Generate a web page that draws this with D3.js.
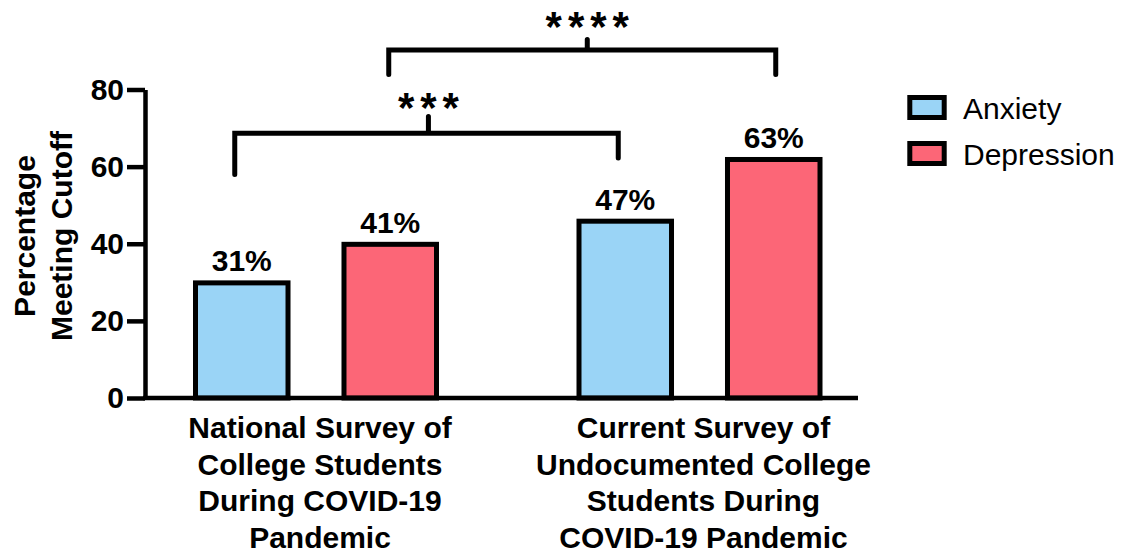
<!DOCTYPE html>
<html>
<head>
<meta charset="utf-8">
<script src="https://cdn.jsdelivr.net/npm/d3@7"></script>
<style>
  html, body { margin: 0; padding: 0; background: #fff; }
  svg { display: block; font-family: "Liberation Sans", Arial, Helvetica, sans-serif; }
</style>
</head>
<body>
<svg id="chart" width="1125" height="557"></svg>
<script>
// ---- data ----
const groups = ["National", "Current"];
const groupLabels = [
  ["National Survey of", "College Students", "During COVID-19", "Pandemic"],
  ["Current Survey of", "Undocumented College", "Students During", "COVID-19 Pandemic"]
];
const series = ["Anxiety", "Depression"];
const colors = ["#9AD4F6", "#FC6677"];
const anxiety = [30.5, 46.5];
const depression = [40.5, 62.5];
const valueLabels = [["31%", "47%"], ["41%", "63%"]]; // [series][group]
const yTicks = [0, 20, 40, 60, 80];
const yTitle = ["Percentage", "Meeting Cutoff"];
// significance brackets: [group, series] endpoints
const brackets = [
  { from: [0, 0], to: [1, 0], label: "***" },
  { from: [0, 1], to: [1, 1], label: "****" }
];

const values = [anxiety, depression]; // [series][group]

// ---- layout ----
const svg = d3.select("#chart");
const SW = 5;
const y = d3.scaleLinear().domain([0, 80]).range([398, 89.5]);
const x0 = d3.scaleBand().domain(groups).range([124.25, 891.25]).padding(0);
const x1 = d3.scaleBand().domain(series).range([-120.5, 120.5]).paddingInner(0.377).paddingOuter(0);
const gc = g => x0(g) + x0.bandwidth() / 2;
const barX = (gi, si) => gc(groups[gi]) + x1(series[si]);
const barCenter = (gi, si) => barX(gi, si) + x1.bandwidth() / 2;

// bars
const barData = [];
series.forEach((s, si) => groups.forEach((g, gi) => barData.push({ gi, si, v: values[si][gi] })));

svg.append("g").selectAll("rect").data(barData).join("rect")
  .attr("x", d => barX(d.gi, d.si))
  .attr("width", x1.bandwidth())
  .attr("y", d => y(d.v) + SW / 2)
  .attr("height", d => y(0) - y(d.v) - SW / 2)
  .attr("fill", d => colors[d.si])
  .attr("stroke", "#000")
  .attr("stroke-width", SW);

// value labels
svg.append("g").selectAll("text").data(barData).join("text")
  .attr("x", d => barCenter(d.gi, d.si))
  .attr("y", d => y(d.v) - 9)
  .attr("text-anchor", "middle")
  .attr("font-size", 30)
  .attr("font-weight", "bold")
  .text(d => valueLabels[d.si][d.gi]);

// y axis
const yAxis = d3.axisLeft(y).tickValues(yTicks).tickSize(18).tickSizeOuter(0).tickPadding(3);
const yg = svg.append("g").attr("transform", "translate(145,0)").call(yAxis);
yg.select(".domain").attr("stroke", "#000").attr("stroke-width", 4.5);
yg.selectAll(".tick line").attr("stroke", "#000").attr("stroke-width", 4.5);
yg.selectAll(".tick text").attr("fill", "#000").attr("font-size", 30).attr("font-weight", "bold")
  .attr("font-family", "'Liberation Sans', Arial, sans-serif");

// x axis line
svg.append("line")
  .attr("x1", 143).attr("x2", 858)
  .attr("y1", y(0)).attr("y2", y(0))
  .attr("stroke", "#000").attr("stroke-width", 4.5);

// x group labels
const xl = svg.append("g");
groups.forEach((g, gi) => {
  const t = xl.append("text")
    .attr("text-anchor", "middle")
    .attr("font-size", 30)
    .attr("font-weight", "bold");
  groupLabels[gi].forEach((line, li) => {
    t.append("tspan").attr("x", gc(g) + 4).attr("y", 438 + li * 36.7).text(line);
  });
});

// y title
const yt = svg.append("text")
  .attr("transform", "translate(0,236) rotate(-90)")
  .attr("text-anchor", "middle")
  .attr("font-size", 30)
  .attr("font-weight", "bold");
yTitle.forEach((line, i) => yt.append("tspan").attr("x", 0).attr("y", 34.5 + i * 37).text(line));

// brackets
const bracketGeom = [
  { yb: 133.3, legL: 174.5, legR: 158, tickTop: 116.5, dxL: -7, dxR: -7, tickFrac: 0.505, textY: 122 },
  { yb: 50, legL: 74.5, legR: 74.5, tickTop: 39.5, dxL: -1.5, dxR: 2, tickFrac: 0.513, textY: 41 }
];
const bg = svg.append("g");
brackets.forEach((b, i) => {
  const gm = bracketGeom[i];
  const xa = barCenter(b.from[0], b.from[1]) + gm.dxL;
  const xb = barCenter(b.to[0], b.to[1]) + gm.dxR;
  const xm = xa + (xb - xa) * gm.tickFrac;
  bg.append("path")
    .attr("d", `M${xa},${gm.legL}V${gm.yb}H${xb}V${gm.legR}M${xm},${gm.yb}V${gm.tickTop}`)
    .attr("fill", "none").attr("stroke", "#000").attr("stroke-width", SW)
    .attr("stroke-linecap", "round");
  bg.append("text")
    .attr("x", xm + 3).attr("y", gm.textY)
    .attr("text-anchor", "middle")
    .attr("font-size", 42)
    .attr("font-weight", "bold")
    .attr("letter-spacing", 6)
    .text(b.label);
});

// legend
const lg = svg.append("g");
series.forEach((s, i) => {
  const yy = 97.5 + i * 46;
  lg.append("rect")
    .attr("x", 909.8).attr("y", yy).attr("width", 34.4).attr("height", 20)
    .attr("fill", colors[i]).attr("stroke", "#000").attr("stroke-width", SW);
  lg.append("text")
    .attr("x", 963).attr("y", yy + 10 + 11)
    .attr("font-size", 30)
    .text(s);
});
</script>
</body>
</html>
